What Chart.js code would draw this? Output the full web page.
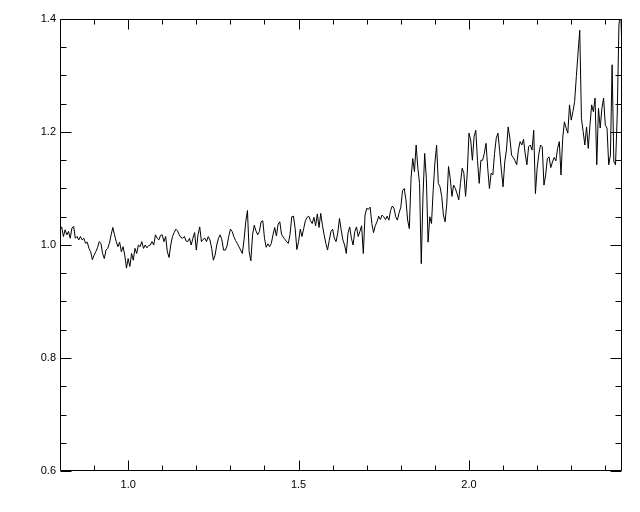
<!DOCTYPE html>
<html>
<head>
<meta charset="utf-8">
<script src="https://cdn.jsdelivr.net/npm/chart.js@4/dist/chart.umd.min.js"></script>
<style>
html,body{margin:0;padding:0;background:#fff;}
canvas{display:block;}
</style>
</head>
<body>
<canvas id="c" width="640" height="512"></canvas>
<script>
const wavelength = [
0.800,0.805,0.810,0.815,0.820,0.825,0.830,0.835,0.840,0.845,0.850,0.855,0.860,0.865,0.870,0.875,0.880,0.885,0.890,0.895,
0.900,0.905,0.910,0.915,0.920,0.925,0.930,0.935,0.940,0.945,0.950,0.955,0.960,0.965,0.970,0.975,0.980,0.985,0.990,0.995,
1.000,1.005,1.010,1.015,1.020,1.025,1.030,1.035,1.040,1.045,1.050,1.055,1.060,1.065,1.070,1.075,1.080,1.085,1.090,1.095,
1.100,1.105,1.110,1.115,1.120,1.125,1.130,1.135,1.140,1.145,1.150,1.155,1.160,1.165,1.170,1.175,1.180,1.185,1.190,1.195,
1.200,1.205,1.210,1.215,1.220,1.225,1.230,1.235,1.240,1.245,1.250,1.255,1.260,1.265,1.270,1.275,1.280,1.285,1.290,1.295,
1.300,1.305,1.310,1.315,1.320,1.325,1.330,1.335,1.340,1.345,1.350,1.355,1.360,1.365,1.370,1.375,1.380,1.385,1.390,1.395,
1.400,1.405,1.410,1.415,1.420,1.425,1.430,1.435,1.440,1.445,1.450,1.455,1.460,1.465,1.470,1.475,1.480,1.485,1.490,1.495,
1.500,1.505,1.510,1.515,1.520,1.525,1.530,1.535,1.540,1.545,1.550,1.555,1.560,1.565,1.570,1.575,1.580,1.585,1.590,1.595,
1.600,1.605,1.610,1.615,1.620,1.625,1.630,1.635,1.640,1.645,1.650,1.655,1.660,1.665,1.670,1.675,1.680,1.685,1.690,1.695,
1.700,1.705,1.710,1.715,1.720,1.725,1.730,1.735,1.740,1.745,1.750,1.755,1.760,1.765,1.770,1.775,1.780,1.785,1.790,1.795,
1.800,1.805,1.810,1.815,1.820,1.825,1.830,1.835,1.840,1.845,1.850,1.855,1.860,1.865,1.870,1.875,1.880,1.885,1.890,1.895,
1.900,1.905,1.910,1.915,1.920,1.925,1.930,1.935,1.940,1.945,1.950,1.955,1.960,1.965,1.970,1.975,1.980,1.985,1.990,1.995,
2.000,2.005,2.010,2.015,2.020,2.025,2.030,2.035,2.040,2.045,2.050,2.055,2.060,2.065,2.070,2.075,2.080,2.085,2.090,2.095,
2.100,2.105,2.110,2.115,2.120,2.125,2.130,2.135,2.140,2.145,2.150,2.155,2.160,2.165,2.170,2.175,2.180,2.185,2.190,2.195,
2.200,2.205,2.210,2.215,2.220,2.225,2.230,2.235,2.240,2.245,2.250,2.255,2.260,2.265,2.270,2.275,2.280,2.285,2.290,2.295,
2.300,2.305,2.310,2.315,2.320,2.325,2.330,2.335,2.340,2.345,2.350,2.355,2.360,2.365,2.370,2.375,2.380,2.385,2.390,2.395,
2.400,2.405,2.410,2.415,2.420,2.425,2.430,2.435,2.440,2.445,2.450
];
const flux = [
1.027,1.032,1.015,1.027,1.018,1.024,1.012,1.030,1.033,1.012,1.015,1.009,1.015,1.009,1.012,1.003,1.005,0.994,0.988,0.974,
0.982,0.988,0.995,1.006,1.003,0.985,0.976,0.991,0.994,1.003,1.018,1.031,1.018,1.006,0.997,1.005,0.988,0.997,0.982,0.959,
0.976,0.962,0.985,0.973,0.994,0.985,1.000,0.997,1.006,0.994,1.000,0.995,0.999,1.000,1.006,1.000,1.018,1.012,1.009,1.017,
1.018,1.006,1.015,0.988,0.978,1.000,1.015,1.022,1.028,1.025,1.018,1.013,1.012,1.015,1.007,1.006,1.012,1.000,1.012,1.022,
0.991,1.018,1.032,1.006,1.010,1.012,1.006,1.015,1.009,0.994,0.973,0.982,1.000,1.012,1.018,1.009,0.991,0.991,0.998,1.015,
1.028,1.024,1.015,1.008,1.003,0.997,0.991,0.985,1.009,1.041,1.061,0.988,0.972,1.018,1.035,1.025,1.018,1.024,1.041,1.043,
1.012,0.996,1.002,0.997,1.003,1.018,1.031,1.016,1.037,1.041,1.019,1.014,1.010,1.006,1.003,1.019,1.050,1.051,1.029,0.992,
1.006,1.028,1.015,1.029,1.043,1.049,1.051,1.043,1.038,1.049,1.034,1.055,1.031,1.056,1.035,1.018,1.003,0.991,1.008,1.024,
1.028,1.012,1.006,1.021,1.047,1.027,1.009,1.000,0.985,1.021,1.032,1.012,1.000,1.024,1.032,1.015,1.024,1.034,0.985,1.053,
1.065,1.063,1.067,1.038,1.022,1.034,1.041,1.051,1.045,1.053,1.050,1.045,1.051,1.044,1.061,1.069,1.065,1.050,1.044,1.057,
1.067,1.096,1.100,1.080,1.044,1.029,1.118,1.153,1.130,1.177,1.136,1.109,0.967,1.085,1.162,1.118,1.005,1.050,1.038,1.097,
1.145,1.177,1.109,1.103,1.086,1.053,1.041,1.074,1.139,1.118,1.086,1.106,1.100,1.091,1.080,1.109,1.136,1.127,1.086,1.127,
1.198,1.186,1.150,1.192,1.203,1.150,1.109,1.150,1.150,1.162,1.180,1.136,1.100,1.127,1.124,1.162,1.189,1.198,1.167,1.133,
1.103,1.147,1.168,1.209,1.189,1.159,1.155,1.149,1.142,1.168,1.183,1.177,1.187,1.161,1.142,1.174,1.177,1.168,1.203,1.091,
1.136,1.161,1.177,1.174,1.106,1.124,1.153,1.156,1.137,1.147,1.155,1.149,1.171,1.183,1.124,1.189,1.218,1.207,1.198,1.248,
1.221,1.236,1.254,1.298,1.340,1.380,1.224,1.201,1.177,1.209,1.171,1.212,1.248,1.236,1.260,1.142,1.242,1.207,1.242,1.260,
1.212,1.207,1.142,1.159,1.319,1.148,1.142,1.230,1.389,1.419,1.324
];
const xRange = [0.8, 2.449];
const yRange = [0.6, 1.4];
const xMajorTicks = [1.0, 1.5, 2.0];
const xMinorTicks = [0.9,1.1,1.2,1.3,1.4,1.6,1.7,1.8,1.9,2.1,2.2,2.3,2.4];
const yMajorTicks = [0.6, 0.8, 1.0, 1.2, 1.4];
const yMinorTicks = [0.65,0.7,0.75,0.85,0.9,0.95,1.05,1.1,1.15,1.25,1.3,1.35];

const points = wavelength.map((w, i) => ({x: w, y: flux[i]}));

const idlAxes = {
  id: 'idlAxes',
  afterDraw(chart) {
    const ctx = chart.ctx;
    const a = chart.chartArea;
    const xs = chart.scales.x, ys = chart.scales.y;
    ctx.save();
    ctx.strokeStyle = '#000';
    ctx.lineWidth = 1;
    const L = Math.round(a.left) + 0.5, R = Math.round(a.right) - 0.5;
    const T = Math.round(a.top) + 0.5, B = Math.round(a.bottom) - 0.5;
    ctx.beginPath();
    ctx.rect(L, T, R - L, B - T);
    ctx.stroke();
    ctx.beginPath();
    const xt = (v, len) => {
      const p = Math.round(xs.getPixelForValue(v)) + 0.5;
      ctx.moveTo(p, B); ctx.lineTo(p, B - len);
      ctx.moveTo(p, T); ctx.lineTo(p, T + len);
    };
    const yt = (v, len) => {
      const p = Math.round(ys.getPixelForValue(v)) + 0.5;
      ctx.moveTo(L, p); ctx.lineTo(L + len, p);
      ctx.moveTo(R, p); ctx.lineTo(R - len, p);
    };
    xMajorTicks.forEach(v => xt(v, 10));
    xMinorTicks.forEach(v => xt(v, 5));
    yMajorTicks.forEach(v => yt(v, 11));
    yMinorTicks.forEach(v => yt(v, 6));
    ctx.stroke();
    ctx.restore();
  }
};

Chart.defaults.font.family = "'Liberation Sans', Arial, sans-serif";
Chart.defaults.font.size = 11;
Chart.defaults.color = '#000';

new Chart(document.getElementById('c'), {
  type: 'line',
  data: {
    datasets: [{
      data: points,
      borderColor: '#000',
      borderWidth: 1,
      pointRadius: 0,
      tension: 0,
      fill: false
    }]
  },
  options: {
    responsive: false,
    animation: false,
    events: [],
    layout: {padding: {top: 19, right: 18, left: 0, bottom: 0}},
    plugins: {legend: {display: false}, tooltip: {enabled: false}},
    scales: {
      x: {
        type: 'linear',
        min: xRange[0], max: xRange[1],
        grid: {display: false, drawTicks: false},
        border: {display: false},
        afterBuildTicks: s => { s.ticks = xMajorTicks.map(v => ({value: v})); },
        afterFit: s => { s.height = 41; },
        ticks: {padding: 7, maxRotation: 0, autoSkip: false, callback: v => Number(v).toFixed(1)}
      },
      y: {
        type: 'linear',
        min: yRange[0], max: yRange[1],
        grid: {display: false, drawTicks: false},
        border: {display: false},
        afterBuildTicks: s => { s.ticks = yMajorTicks.map(v => ({value: v})); },
        afterFit: s => { s.width = 60; },
        ticks: {padding: 4, autoSkip: false, callback: v => Number(v).toFixed(1)}
      }
    }
  },
  plugins: [idlAxes]
});
</script>
</body>
</html>
